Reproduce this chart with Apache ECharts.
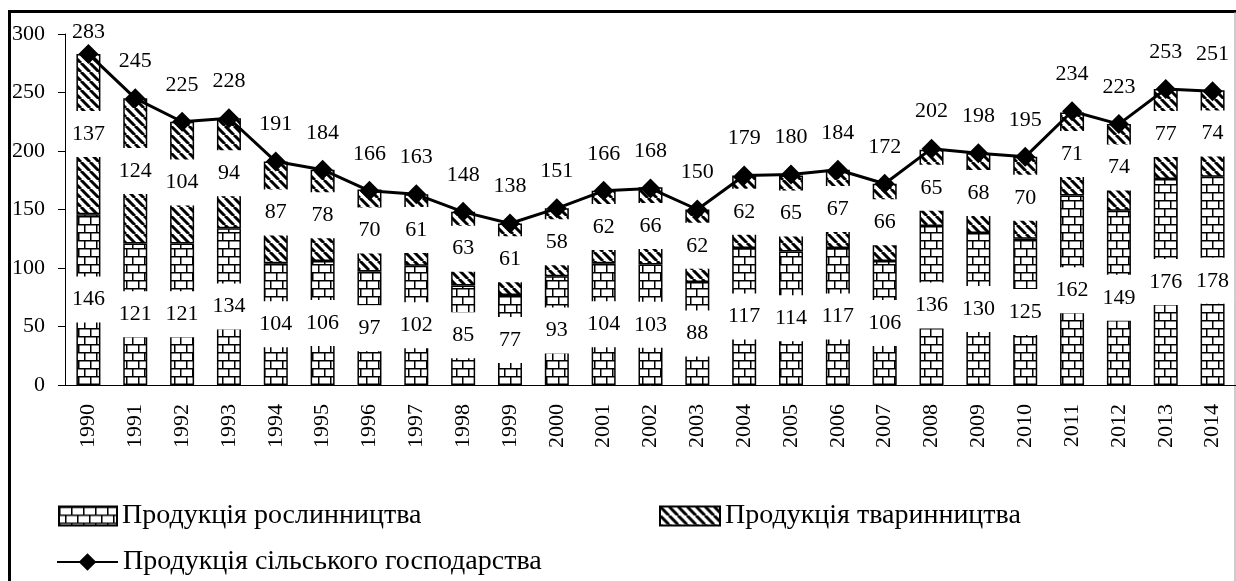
<!DOCTYPE html>
<html>
<head>
<meta charset="utf-8">
<script src="https://cdn.jsdelivr.net/npm/echarts@6/dist/echarts.min.js"></script>
<style>
  html, body { margin: 0; padding: 0; background: #fff; }
  #chart { width: 1236px; height: 581px; }
</style>
</head>
<body>
<div id="chart"></div>
<script>
  // роки
  var years = ['1990','1991','1992','1993','1994','1995','1996','1997','1998','1999','2000','2001','2002',
               '2003','2004','2005','2006','2007','2008','2009','2010','2011','2012','2013','2014'];
  // продукція рослинництва
  var crops = [146,121,121,134,104,106,97,102,85,77,93,104,103,88,117,114,117,106,136,130,125,162,149,176,178];
  // продукція тваринництва
  var livestock = [137,124,104,94,87,78,70,61,63,61,58,62,66,62,62,65,67,66,65,68,70,71,74,77,74];
  // продукція сільського господарства
  var total = [283,245,225,228,191,184,166,163,148,138,151,166,168,150,179,180,184,172,202,198,195,234,223,253,251];
  var yTicks = [0, 50, 100, 150, 200, 250, 300];

  var FONT = '"Liberation Serif", "Times New Roman", serif';

  // цегла
  function brickPattern() {
    var c = document.createElement('canvas');
    c.width = 12; c.height = 16;
    var g = c.getContext('2d');
    g.fillStyle = '#fff';
    g.fillRect(0, 0, 12, 16);
    g.strokeStyle = '#000';
    g.lineWidth = 1.5;
    g.beginPath();
    g.moveTo(0, 0.75); g.lineTo(12, 0.75);
    g.moveTo(0, 8.75); g.lineTo(12, 8.75);
    g.moveTo(0.75, 0); g.lineTo(0.75, 8);
    g.moveTo(6.75, 8); g.lineTo(6.75, 16);
    g.stroke();
    return { image: c, repeat: 'repeat' };
  }
  // штриховка
  function hatchPattern() {
    var s = 9;
    var c = document.createElement('canvas');
    c.width = s; c.height = s;
    var g = c.getContext('2d');
    g.fillStyle = '#fff';
    g.fillRect(0, 0, s, s);
    g.strokeStyle = '#000';
    g.lineWidth = 3;
    g.beginPath();
    [-s, 0, s].forEach(function (k) {
      g.moveTo(k, 0); g.lineTo(k + s, s);
    });
    g.stroke();
    return { image: c, repeat: 'repeat' };
  }

  var segLabel = {
    show: true,
    position: 'inside',
    color: '#000',
    fontFamily: FONT,
    fontSize: 22,
    backgroundColor: '#fff',
    padding: [12, 5]
  };
  var legendText = { fontFamily: FONT, fontSize: 28, color: '#000' };

  // перша мітка притиснута до верху, як в оригіналі
  var totalData = total.map(function (v, i) {
    return i === 0 ? { value: v, label: { distance: 1 } } : v;
  });

  var chart = echarts.init(document.getElementById('chart'));
  var option = {
    animation: false,
    backgroundColor: '#fff',
    textStyle: { fontFamily: FONT, color: '#000' },
    grid: { left: 65, top: 34, width: 1175, height: 351 },
    legend: [
      { data: ['Продукція рослинництва'], left: 58, top: 502, padding: 0, icon: 'rect',
        itemWidth: 58, itemHeight: 19, textStyle: legendText },
      { data: ['Продукція тваринництва'], left: 659, top: 502, padding: 0, icon: 'rect',
        itemWidth: 60, itemHeight: 19, textStyle: legendText },
      { data: ['Продукція сільського господарства'], left: 56, top: 548, padding: 0,
        itemWidth: 61, itemHeight: 22, textStyle: legendText }
    ],
    xAxis: {
      type: 'category',
      data: years,
      axisLine: { lineStyle: { color: '#000', width: 1 } },
      axisTick: { length: 6, lineStyle: { color: '#000' } },
      axisLabel: { rotate: 90, margin: 19, color: '#000', fontFamily: FONT, fontSize: 22, interval: 0 }
    },
    yAxis: {
      type: 'value',
      min: yTicks[0],
      max: yTicks[yTicks.length - 1],
      interval: 50,
      axisLine: { show: true, lineStyle: { color: '#000', width: 1 } },
      axisTick: { show: true, length: 7, lineStyle: { color: '#000' } },
      splitLine: { show: false },
      axisLabel: { margin: 20, color: '#000', fontFamily: FONT, fontSize: 22 }
    },
    graphic: [
      { type: 'line', shape: { x1: 9.5, y1: 10, x2: 9.5, y2: 581 }, style: { stroke: '#000', lineWidth: 3 } },
      { type: 'line', shape: { x1: 8, y1: 11.5, x2: 1236, y2: 11.5 }, style: { stroke: '#000', lineWidth: 3 } },
      { type: 'line', shape: { x1: 1235, y1: 12, x2: 1235, y2: 581 }, style: { stroke: '#999', lineWidth: 1 } }
    ],
    series: [
      {
        name: 'Продукція рослинництва',
        type: 'bar',
        stack: 'all',
        barWidth: 24,
        data: crops,
        itemStyle: { color: brickPattern(), borderColor: '#000', borderWidth: 1.5 },
        label: segLabel
      },
      {
        name: 'Продукція тваринництва',
        type: 'bar',
        stack: 'all',
        barWidth: 24,
        data: livestock,
        itemStyle: { color: hatchPattern(), borderColor: '#000', borderWidth: 1.5 },
        label: segLabel
      },
      {
        name: 'Продукція сільського господарства',
        type: 'line',
        z: 10,
        data: totalData,
        symbol: 'diamond',
        symbolSize: 20,
        itemStyle: { color: '#000' },
        lineStyle: { color: '#000', width: 3 },
        label: { show: true, position: 'top', distance: 16, color: '#000', fontFamily: FONT, fontSize: 22 }
      }
    ]
  };
  chart.setOption(option, true);
</script>
</body>
</html>
